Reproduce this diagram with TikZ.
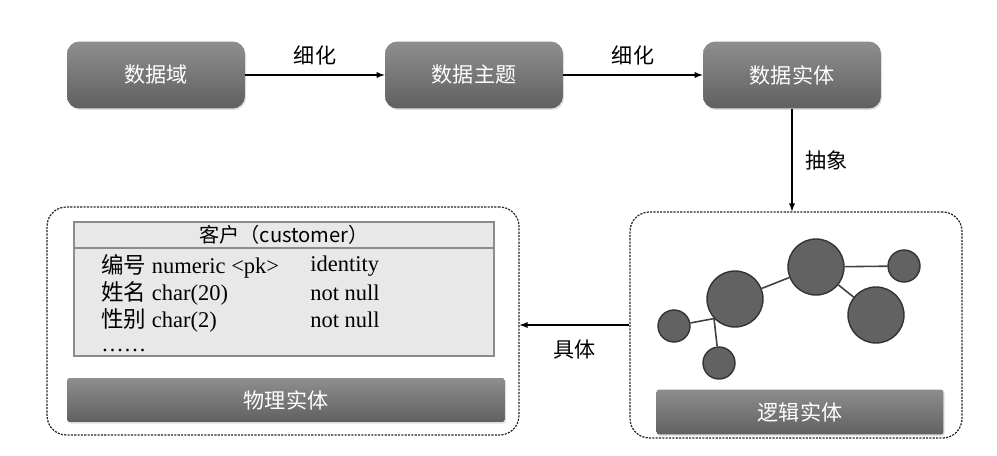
\documentclass[tikz,border=0pt]{standalone}
\usepackage{fontspec}
\setmainfont{Liberation Serif}
\newfontfamily\cjk{Noto Sans CJK SC}
\usetikzlibrary{arrows,positioning,shapes,shadows}

\definecolor{boxtop}{RGB}{142,142,142}
\definecolor{boxbot}{RGB}{96,96,96}
\definecolor{ballfill}{RGB}{98,98,98}
\definecolor{tablefill}{RGB}{232,232,232}

\begin{document}
\begin{tikzpicture}[
        x=0.02cm, y=-0.02cm,
        stepbox/.style={rectangle, rounded corners=7pt, top color=boxtop, bottom color=boxbot,
            draw=none, text=white, font=\cjk\fontsize{12}{14}\selectfont,
            minimum width=3.56cm, minimum height=1.34cm,
            drop shadow={opacity=0.25, shadow xshift=0.6pt, shadow yshift=-0.9pt}},
        bar/.style={rectangle, rounded corners=1.5pt, top color=boxtop, bottom color=boxbot,
            draw=none, text=white, font=\cjk\fontsize{12}{14}\selectfont,
            drop shadow={opacity=0.25, shadow xshift=0.6pt, shadow yshift=-0.9pt}},
        group/.style={rectangle, rounded corners=11pt, draw=black!85, line width=0.7pt,
            dash pattern=on 1.2pt off 0.7pt},
        tablebox/.style={draw=black!45, line width=0.8pt, fill=tablefill},
        ball/.style={circle, draw=black!80, line width=0.8pt, fill=ballfill, inner sep=0pt},
        big/.style={ball, minimum size=1.12cm},
        small/.style={ball, minimum size=0.64cm},
        link/.style={draw=black!75, line width=0.9pt},
        arrow/.style={-latex, line width=0.6pt},
        lbl/.style={font=\cjk\fontsize{12}{14}\selectfont},
        row/.style={anchor=west, inner sep=0pt, font=\fontsize{12.8}{14}\selectfont}
    ]
        \useasboundingbox (0,0) rectangle (997,456);

        % Top row
        \node[stepbox] (domain) at (156,75) {数据域};
        \node[stepbox] (subject) at (474,75) {数据主题};
        \node[stepbox] (entity) at (792,75) {数据实体};

        \draw[arrow] (domain) -- node[lbl, above=2pt] {细化} (subject);
        \draw[arrow] (subject) -- node[lbl, above=2pt] {细化} (entity);

        % Groups
        \node[group, minimum width=9.44cm, minimum height=4.56cm] (phys) at (283,321) {};
        \node[group, minimum width=6.64cm, minimum height=4.52cm] (logic) at (796,325) {};

        \draw[arrow] (entity.south) -- node[lbl, right=4pt] {抽象} (entity.south |- logic.north);
        \draw[arrow] (logic.west) -- node[lbl, below=5pt] {具体} (logic.west -| phys.east);

        % Physical entity table
        \draw[tablebox] (74,222) rectangle (494,356);
        \draw[tablebox] (74,222) rectangle (494,248);
        \node[font=\cjk\fontsize{11.5}{13}\selectfont] (head) at (284,235) {客户（customer）};
        \node[row] (r1a) at (101,266) {{\cjk 编号} numeric <pk>};
        \node[row] (r1b) at (310,266) {identity};
        \node[row] (r2a) at (101,293) {{\cjk 姓名} char(20)};
        \node[row] (r2b) at (310,293) {not null};
        \node[row] (r3a) at (101,320) {{\cjk 性别} char(2)};
        \node[row] (r3b) at (310,320) {not null};
        \node[row, text height=2pt, text depth=0pt] (r4a) at (101,350) {……};

        \node[bar, minimum width=8.76cm, minimum height=0.88cm] (physbar) at (286,400) {物理实体};

        % Logical entity graph
        \node[big] (b1) at (735,299) {};
        \node[big] (b2) at (816,267) {};
        \node[big] (b3) at (876,315) {};
        \node[small] (s1) at (904,266) {};
        \node[small] (s2) at (674,326) {};
        \node[small] (s3) at (719,363) {};

        \draw[link] (s2) -- (b1.223);
        \draw[link] (b1.223) -- (s3);
        \draw[link] (b1) -- (b2);
        \draw[link] (b2) -- (s1);
        \draw[link] (b2) -- (b3);

        \node[bar, minimum width=5.74cm, minimum height=0.9cm] (logicbar) at (800,412) {逻辑实体};
    \end{tikzpicture}
\end{document}
